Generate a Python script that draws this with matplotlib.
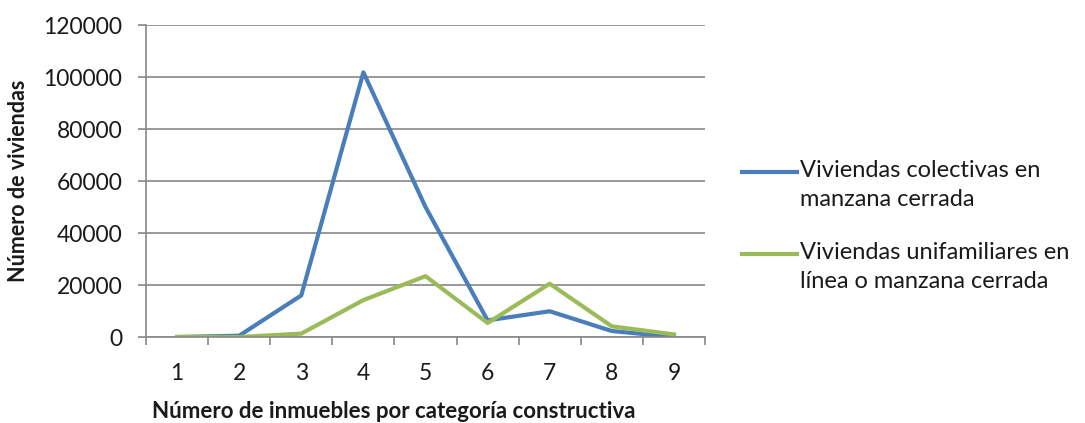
import matplotlib
matplotlib.use("Agg")
import matplotlib.pyplot as plt
from matplotlib.lines import Line2D
from matplotlib.ticker import FixedLocator, NullFormatter

categories = [1, 2, 3, 4, 5, 6, 7, 8, 9]
colectivas = [0, 500, 16000, 101800, 50000, 6400, 9900, 2300, 0]
unifamiliares = [0, 0, 1300, 14200, 23400, 5400, 20500, 4100, 1000]
y_ticks = [0, 20000, 40000, 60000, 80000, 100000, 120000]
label_col = "Viviendas colectivas en\nmanzana cerrada"
label_uni = "Viviendas unifamiliares en\nlínea o manzana cerrada"
color_col = '#4A7EBB'
color_uni = '#9BBB59'

plt.rcParams['font.family'] = ['Lato', 'DejaVu Sans']
txt = '#1a1a1a'
gray = '#888888'

W, H = 1085, 423
fig = plt.figure(figsize=(W / 100, H / 100), dpi=100)
ax = fig.add_axes([146 / W, 1 - 337 / H, (705 - 146) / W, (337 - 25) / H])

ax.plot(categories, colectivas, color=color_col, lw=3.0)
ax.plot(categories, unifamiliares, color=color_uni, lw=3.0)

ax.set_xlim(0.5, 9.5)
ax.set_ylim(0, 120000)
ax.set_yticks(y_ticks)
ax.set_yticklabels([str(v) for v in y_ticks], fontsize=16.5, color=txt)
ax.yaxis.grid(True, color=gray, lw=1.2)
ax.set_axisbelow(True)

ax.xaxis.set_major_locator(FixedLocator([c - 0.5 for c in categories] + [categories[-1] + 0.5]))
ax.xaxis.set_major_formatter(NullFormatter())
ax.xaxis.set_minor_locator(FixedLocator(categories))
ax.set_xticklabels([str(c) for c in categories], minor=True, fontsize=16.5, color=txt)
ax.tick_params(axis='x', which='major', length=6, width=1.2, color=gray, direction='out')
ax.tick_params(axis='x', which='minor', length=0, pad=19)
ax.tick_params(axis='y', length=6, width=1.2, color=gray, direction='out', pad=11)

for s in ['top', 'right']:
    ax.spines[s].set_visible(False)
for s in ['left', 'bottom']:
    ax.spines[s].set_color(gray)
    ax.spines[s].set_linewidth(1.2)

fig.text(394 / W, 1 - 411 / H, "Número de inmuebles por categoría constructiva",
         fontsize=16, fontweight='bold', color=txt, ha='center', va='center')
fig.text(19 / W, 1 - 181 / H, "Número de viviendas", rotation=90, fontsize=15.5,
         fontweight='bold', color=txt, ha='center', va='center')

# legend (handle aligned with first text line, as in the reference)
for (lab, col, ytop) in [(label_col, color_col, 172), (label_uni, color_uni, 254)]:
    fig.add_artist(Line2D([742 / W, 797 / W], [1 - ytop / H, 1 - ytop / H], color=col, lw=3.0,
                          transform=fig.transFigure))
    fig.text(800 / W, 1 - (ytop - 12) / H, lab, fontsize=17, color=txt, ha='left', va='top',
             linespacing=1.45)

fig.savefig("out.png", dpi=100)
